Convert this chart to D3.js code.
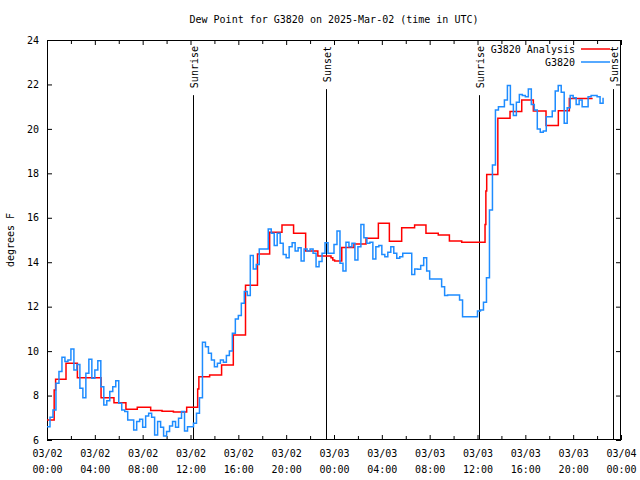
<!DOCTYPE html>
<html><head><meta charset="utf-8">
<script src="https://cdn.jsdelivr.net/npm/d3@7"></script>
<style>
html,body{margin:0;padding:0;background:#fff;}
text{font-family:"DejaVu Sans Mono",monospace;font-size:10px;fill:#000;}
</style></head>
<body><svg id="c" width="640" height="480"></svg>
<script>
// ---- data ----
const title = "Dew Point for G3820 on 2025-Mar-02 (time in UTC)";
const yLabel = "degrees F";
const startUTC = Date.UTC(2025, 2, 2, 0, 0);
const hourSpan = 48;
const yTicks = [6, 8, 10, 12, 14, 16, 18, 20, 22, 24];
const xTickHours = [0, 4, 8, 12, 16, 20, 24, 28, 32, 36, 40, 44, 48];
const xMinorHours = [2, 6, 10, 14, 18, 22, 26, 30, 34, 38, 42, 46];
const seriesNames = ["G3820 Analysis", "G3820"];
const seriesColors = ["#ff0000", "#1e8cff"];
// Analysis: step changes (hours since 03/02 00:00 UTC, degF)
const analysisHours = [0, 0.6, 0.72, 1.59, 2.54, 4.52, 5.6, 6.6, 7.55, 8.67, 9.62, 10.57, 11.68, 12.6, 12.7, 13.6, 14.6, 15.58, 16.6, 17.6, 18.62, 19.65, 20.62, 21.63, 22.65, 23.75, 23.9, 24.05, 24.65, 25.67, 26.68, 27.71, 28.63, 29.66, 30.74, 31.69, 32.72, 33.65, 34.68, 36.63, 36.7, 36.77, 37.7, 38.72, 39.7, 40.67, 41.73, 42.76, 43.68, 45.63];
const analysisValues = [6.9, 8.25, 8.73, 9.45, 8.8, 7.9, 7.68, 7.38, 7.47, 7.33, 7.29, 7.26, 7.47, 8.3, 8.85, 8.93, 9.37, 10.72, 12.96, 14.37, 15.35, 15.68, 15.3, 14.5, 14.28, 14.2, 14.1, 14.05, 14.66, 14.82, 15.08, 15.75, 14.94, 15.55, 15.68, 15.3, 15.23, 14.95, 14.9, 15.7, 17.2, 17.95, 20.48, 20.78, 21.3, 20.8, 20.15, 20.82, 21.37, 21.37];
// Observations every 15 minutes from 03/02 00:00 UTC
const obsStepHours = 0.25;
const obsValues = [
 6.6, 7.02, 7.35, 8.55, 9.08, 9.72, 9.53, 9.6, 10.1, 9.15, 9.4, 8.33,
 7.9, 9.0, 9.63, 8.78, 9.15, 9.57, 8.4, 7.58, 7.77, 8.18, 8.4, 8.67,
 7.65, 7.35, 7.28, 6.9, 6.9, 6.45, 6.83, 6.93, 6.57, 7.08, 7.2, 7.02,
 6.23, 6.83, 6.57, 6.18, 6.38, 6.63, 6.83, 6.57, 6.98, 7.28, 6.4, 6.6,
 6.6, 6.75, 7.2, 7.9, 10.4, 10.2, 9.9, 9.6, 9.3, 9.45, 9.6, 9.5,
 9.8, 10.0, 10.8, 11.45, 11.6, 12.15, 12.68, 12.5, 14.3, 13.7, 13.9, 14.6,
 14.6, 14.6, 15.5, 15.3, 14.75, 15.3, 14.85, 14.35, 14.2, 14.7, 14.88, 14.5,
 14.65, 14.05, 14.6, 14.5, 14.6, 14.4, 13.8, 14.03, 14.4, 14.88, 14.4, 14.4,
 14.8, 15.4, 13.95, 13.6, 14.9, 14.7, 14.85, 14.1, 14.7, 15.7, 15.1, 14.85,
 14.9, 14.15, 14.7, 14.75, 14.35, 14.25, 14.45, 14.7, 14.4, 14.18, 14.25, 14.4,
 14.4, 14.4, 13.45, 13.7, 13.68, 13.85, 14.2, 13.6, 13.25, 13.25, 13.25, 13.25,
 12.9, 12.5, 12.53, 12.53, 12.53, 12.53, 12.3, 11.55, 11.55, 11.55, 11.55, 11.55,
 11.8, 11.85, 12.2, 13.3, 16.35, 18.38, 20.85, 21.0, 21.0, 21.3, 21.95, 21.1,
 20.6, 21.2, 21.55, 21.5, 21.45, 21.8, 21.1, 20.85, 20.0, 19.85, 19.9, 20.55,
 20.55, 20.8, 21.7, 21.95, 21.65, 20.25, 20.95, 21.5, 21.4, 21.1, 21.3, 21.0,
 21.0, 21.45, 21.5, 21.5, 21.45, 21.15, 21.4
];
const sunEvents = [
  {label: "Sunrise", hour: 12.17},
  {label: "Sunset", hour: 23.37},
  {label: "Sunrise", hour: 36.15},
  {label: "Sunset", hour: 47.36}
];

// ---- layout ----
const svg = d3.select("#c");
const L = 47, R = 621, T = 40, B = 440;
const H = 3600e3;
const toDate = h => new Date(startUTC + h * H);
const x = d3.scaleUtc().domain([toDate(0), toDate(hourSpan)]).range([L, R]);
const y = d3.scaleLinear().domain([6, 24]).range([B, T]);

svg.append("rect").attr("width", 640).attr("height", 480).attr("fill", "#fff");

// title
svg.append("text").attr("x", 334).attr("y", 23).attr("text-anchor", "middle").text(title);

// y label
svg.append("text").attr("transform", "translate(14,240) rotate(-90)")
  .attr("text-anchor", "middle").text(yLabel);

// axes
const fmtD = d3.utcFormat("%m/%d"), fmtT = d3.utcFormat("%H:%M");
const xTickDates = xTickHours.map(toDate);
const xMinorDates = xMinorHours.map(toDate);
const xb = svg.append("g").attr("transform", `translate(0,${B})`)
  .call(d3.axisBottom(x).tickValues(xTickDates).tickSizeInner(-5).tickSizeOuter(0).tickFormat(""));
xb.selectAll(".tick").each(function(d){
  const g = d3.select(this);
  g.append("text").attr("y", 17).attr("text-anchor","middle").attr("fill","#000").text(fmtD(d));
  g.append("text").attr("y", 33).attr("text-anchor","middle").attr("fill","#000").text(fmtT(d));
});
svg.append("g").attr("transform", `translate(0,${B})`)
  .call(d3.axisBottom(x).tickValues(xMinorDates).tickSizeInner(-4).tickSizeOuter(0).tickFormat(""));
svg.append("g").attr("transform", `translate(0,${T})`)
  .call(d3.axisTop(x).tickValues(xTickDates).tickSizeInner(-5).tickSizeOuter(0).tickFormat(""));
svg.append("g").attr("transform", `translate(0,${T})`)
  .call(d3.axisTop(x).tickValues(xMinorDates).tickSizeInner(-4).tickSizeOuter(0).tickFormat(""));
svg.append("g").attr("transform", `translate(${L},0)`)
  .call(d3.axisLeft(y).tickValues(yTicks).tickSizeInner(-5).tickSizeOuter(0).tickPadding(8).tickFormat(d3.format("d")));
svg.append("g").attr("transform", `translate(${R},0)`)
  .call(d3.axisRight(y).tickValues(yTicks).tickSizeInner(-5).tickSizeOuter(0).tickFormat(""));
svg.selectAll(".domain").remove();
svg.selectAll(".tick line").attr("stroke", "#000");
svg.selectAll(".tick text").attr("font-family", "DejaVu Sans Mono").attr("font-size", 10);
svg.append("rect").attr("x", L + 0.5).attr("y", T + 0.5).attr("width", R - L - 1).attr("height", B - T - 1)
  .attr("fill", "none").attr("stroke", "#000");

// sun events
sunEvents.forEach(e => {
  const sx = Math.round(x(toDate(e.hour))) + 0.5;
  const t = svg.append("text").attr("transform", `translate(${sx + 4},46) rotate(-90)`)
    .attr("text-anchor", "end").text(e.label);
  const len = t.node().getComputedTextLength();
  svg.append("line").attr("x1", sx).attr("x2", sx).attr("y1", 46 + len + 7).attr("y2", B)
    .attr("stroke", "#000").attr("stroke-width", 1);
});

// series
const analysis = analysisHours.map((h, i) => ({t: toDate(h), v: analysisValues[i]}));
const obs = obsValues.map((v, i) => ({t: toDate(i * obsStepHours), v}));
const clip = svg.append("clipPath").attr("id", "pc").append("rect")
  .attr("x", L).attr("y", T).attr("width", R - L).attr("height", B - T);
svg.append("path").datum(analysis).attr("clip-path", "url(#pc)")
  .attr("d", d3.line().x(d => x(d.t)).y(d => y(d.v)).curve(d3.curveStepAfter))
  .attr("fill", "none").attr("stroke", seriesColors[0]).attr("stroke-width", 1.5);
svg.append("path").datum(obs).attr("clip-path", "url(#pc)")
  .attr("d", d3.line().x(d => x(d.t)).y(d => y(d.v)).curve(d3.curveStepAfter))
  .attr("fill", "none").attr("stroke", seriesColors[1]).attr("stroke-width", 1.5);

// legend
seriesNames.forEach((n, i) => {
  const ly = 49 + i * 13;
  svg.append("text").attr("x", 575).attr("y", ly + 4).attr("text-anchor", "end").text(n);
  svg.append("line").attr("x1", 581).attr("x2", 610).attr("y1", ly).attr("y2", ly)
    .attr("stroke", seriesColors[i]).attr("stroke-width", 1.5);
});
</script></body></html>
